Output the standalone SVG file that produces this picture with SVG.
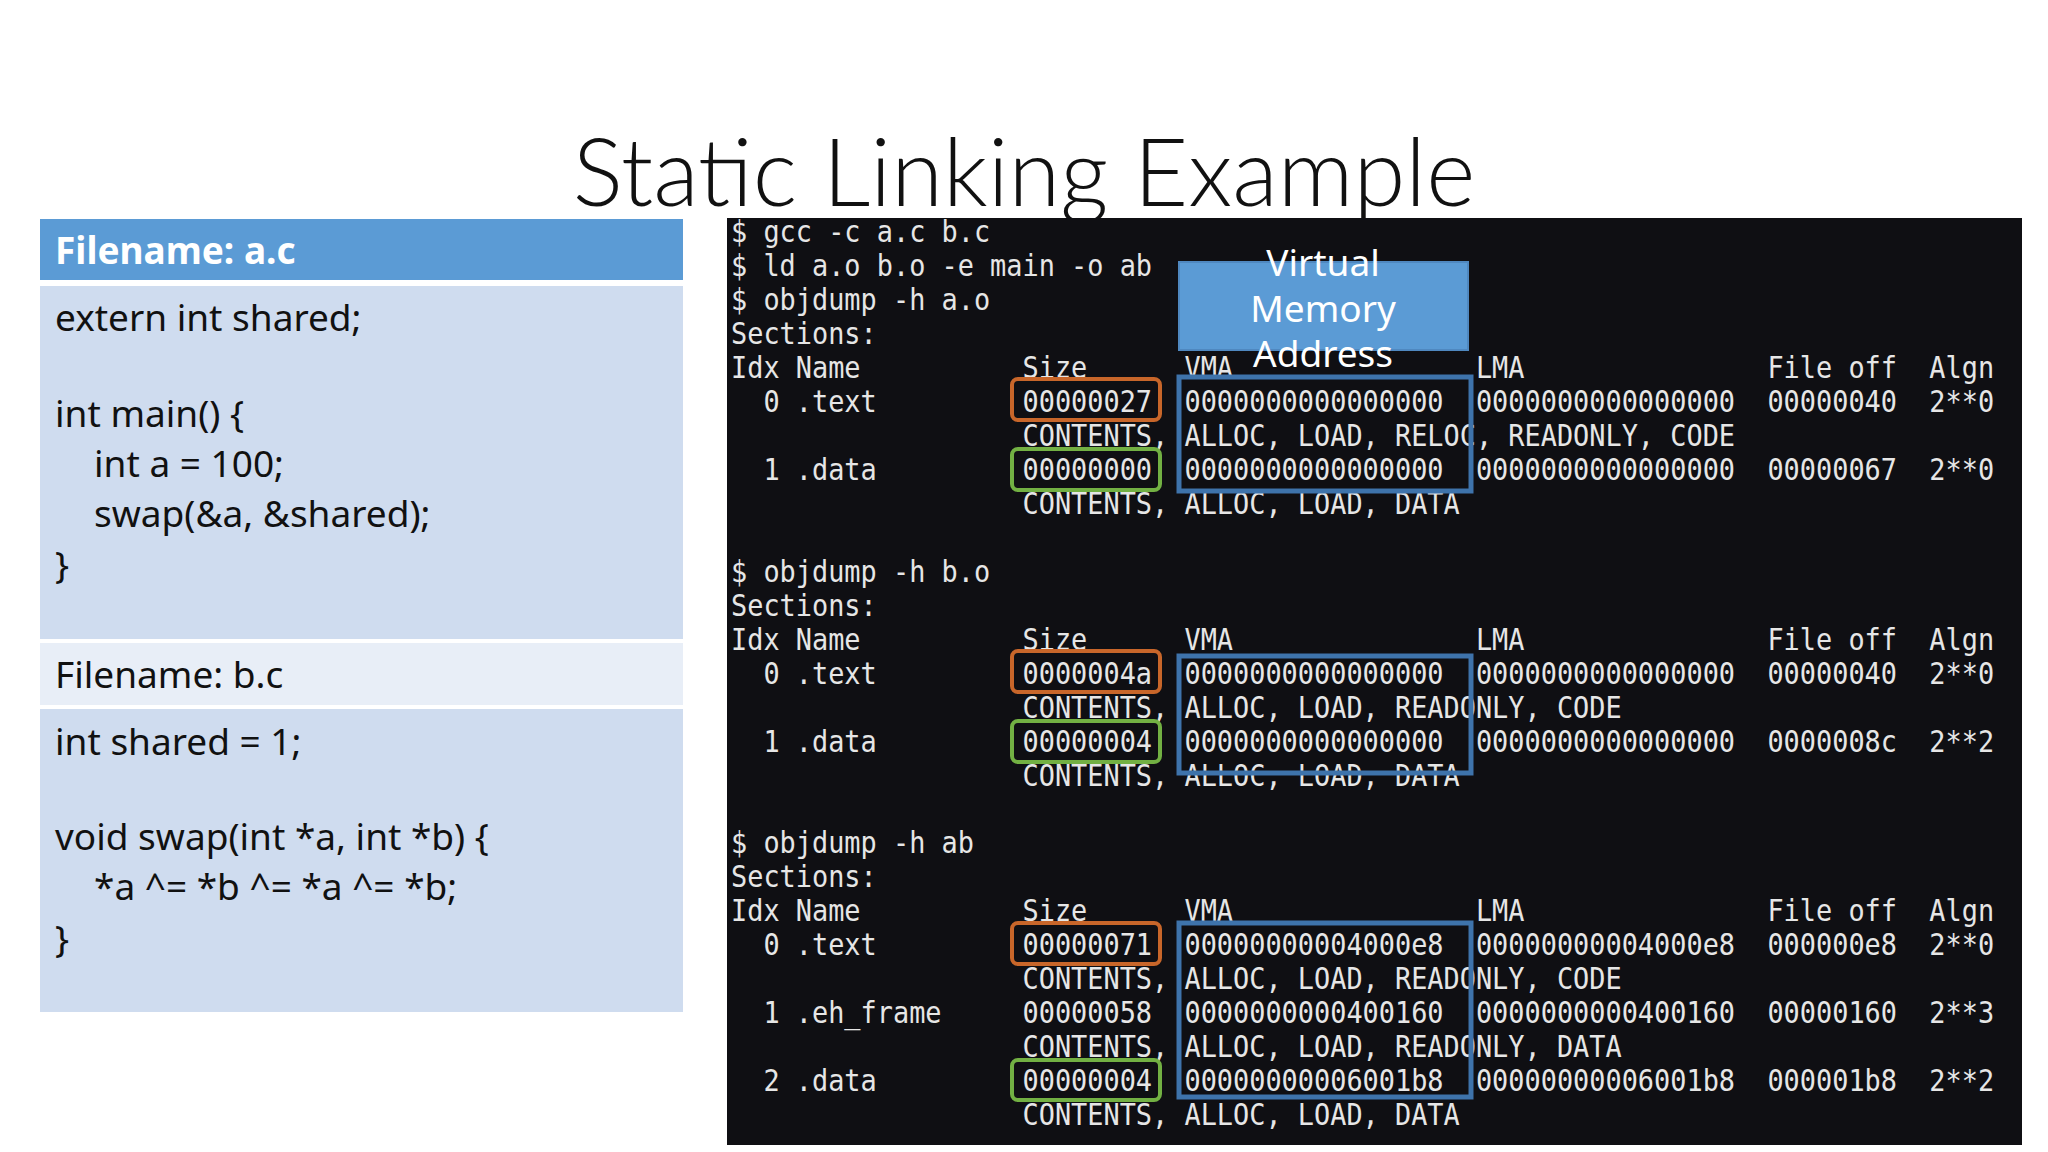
<svg xmlns="http://www.w3.org/2000/svg" width="2048" height="1152" viewBox="0 0 2048 1152">
<style>
.code{font-family:"Noto Sans","Open Sans",sans-serif;font-size:37px;fill:#111}
.term{font-family:"DejaVu Sans Mono","Liberation Mono",monospace;font-size:31px;fill:#e6e6e6;white-space:pre}
.hl{fill:none;stroke-width:4}
.or{stroke:#c8662a}.gr{stroke:#72b043}.bl{stroke:#3e73ab;stroke-width:5}
</style>
<rect width="2048" height="1152" fill="#fff"/>
<text x="1024" y="206" text-anchor="middle" font-family="Lato,'Noto Sans',sans-serif" font-weight="300" font-size="94" fill="#111">Static Linking Example</text>
<g id="fileA">
<rect x="40" y="219" width="643" height="61" fill="#5b9bd5"/>
<text x="55" y="264" font-family="'Noto Sans',sans-serif" font-weight="bold" font-size="37" fill="#fff">Filename: a.c</text>
<rect x="40" y="286" width="643" height="353" fill="#cfdcef"/>
<text class="code" x="55" y="331">extern int shared;</text>
<text class="code" x="55" y="427">int main() {</text>
<text class="code" x="94" y="477">int a = 100;</text>
<text class="code" x="94" y="527">swap(&amp;a, &amp;shared);</text>
<text class="code" x="55" y="578">}</text>
</g>
<g id="fileB">
<rect x="40" y="643" width="643" height="62" fill="#e8eef7"/>
<text x="55" y="688" font-family="'Noto Sans',sans-serif" font-size="37" fill="#111">Filename: b.c</text>
<rect x="40" y="709" width="643" height="303" fill="#cfdcef"/>
<text class="code" x="55" y="755">int shared = 1;</text>
<text class="code" x="55" y="850">void swap(int *a, int *b) {</text>
<text class="code" x="94" y="900">*a ^= *b ^= *a ^= *b;</text>
<text class="code" x="55" y="952">}</text>
</g>
<g id="terminal">
<rect x="727" y="218" width="1295" height="927" fill="#0f0f13"/>
<g transform="translate(731,-2) scale(0.868,1)">
<text class="term" x="0" y="244">$ gcc -c a.c b.c</text>
<text class="term" x="0" y="278">$ ld a.o b.o -e main -o ab</text>
<text class="term" x="0" y="312">$ objdump -h a.o</text>
<text class="term" x="0" y="346">Sections:</text>
<text class="term" x="0" y="380">Idx Name          Size      VMA               LMA               File off  Algn</text>
<text class="term" x="0" y="414">  0 .text         00000027  0000000000000000  0000000000000000  00000040  2**0</text>
<text class="term" x="0" y="448">                  CONTENTS, ALLOC, LOAD, RELOC, READONLY, CODE</text>
<text class="term" x="0" y="482">  1 .data         00000000  0000000000000000  0000000000000000  00000067  2**0</text>
<text class="term" x="0" y="516">                  CONTENTS, ALLOC, LOAD, DATA</text>
<text class="term" x="0" y="584">$ objdump -h b.o</text>
<text class="term" x="0" y="618">Sections:</text>
<text class="term" x="0" y="652">Idx Name          Size      VMA               LMA               File off  Algn</text>
<text class="term" x="0" y="686">  0 .text         0000004a  0000000000000000  0000000000000000  00000040  2**0</text>
<text class="term" x="0" y="720">                  CONTENTS, ALLOC, LOAD, READONLY, CODE</text>
<text class="term" x="0" y="754">  1 .data         00000004  0000000000000000  0000000000000000  0000008c  2**2</text>
<text class="term" x="0" y="788">                  CONTENTS, ALLOC, LOAD, DATA</text>
<text class="term" x="0" y="855">$ objdump -h ab</text>
<text class="term" x="0" y="889">Sections:</text>
<text class="term" x="0" y="923">Idx Name          Size      VMA               LMA               File off  Algn</text>
<text class="term" x="0" y="957">  0 .text         00000071  00000000004000e8  00000000004000e8  000000e8  2**0</text>
<text class="term" x="0" y="991">                  CONTENTS, ALLOC, LOAD, READONLY, CODE</text>
<text class="term" x="0" y="1025">  1 .eh_frame     00000058  0000000000400160  0000000000400160  00000160  2**3</text>
<text class="term" x="0" y="1059">                  CONTENTS, ALLOC, LOAD, READONLY, DATA</text>
<text class="term" x="0" y="1093">  2 .data         00000004  00000000006001b8  00000000006001b8  000001b8  2**2</text>
<text class="term" x="0" y="1127">                  CONTENTS, ALLOC, LOAD, DATA</text>
</g>
</g>
<g id="highlights">
<rect class="hl or" x="1012" y="379" width="148" height="41" rx="6"/>
<rect class="hl gr" x="1012" y="449" width="148" height="41" rx="6"/>
<rect class="hl bl" x="1179" y="377" width="292" height="114"/>
<rect class="hl or" x="1012" y="651" width="148" height="41" rx="6"/>
<rect class="hl gr" x="1012" y="721" width="148" height="41" rx="6"/>
<rect class="hl bl" x="1179" y="656" width="292" height="117"/>
<rect class="hl or" x="1012" y="923" width="148" height="41" rx="6"/>
<rect class="hl gr" x="1012" y="1060" width="148" height="40" rx="6"/>
<rect class="hl bl" x="1179" y="923" width="292" height="174"/>
</g>
<g id="vma-label">
<rect x="1179" y="262" width="289" height="88" fill="#5b9bd5" stroke="#4f88c0" stroke-width="2"/>
<g font-family="'Noto Sans',sans-serif" font-size="37" fill="#fff" text-anchor="middle">
<text x="1323" y="276">Virtual</text>
<text x="1323" y="322">Memory</text>
<text x="1323" y="367">Address</text>
</g>
</g>
</svg>
